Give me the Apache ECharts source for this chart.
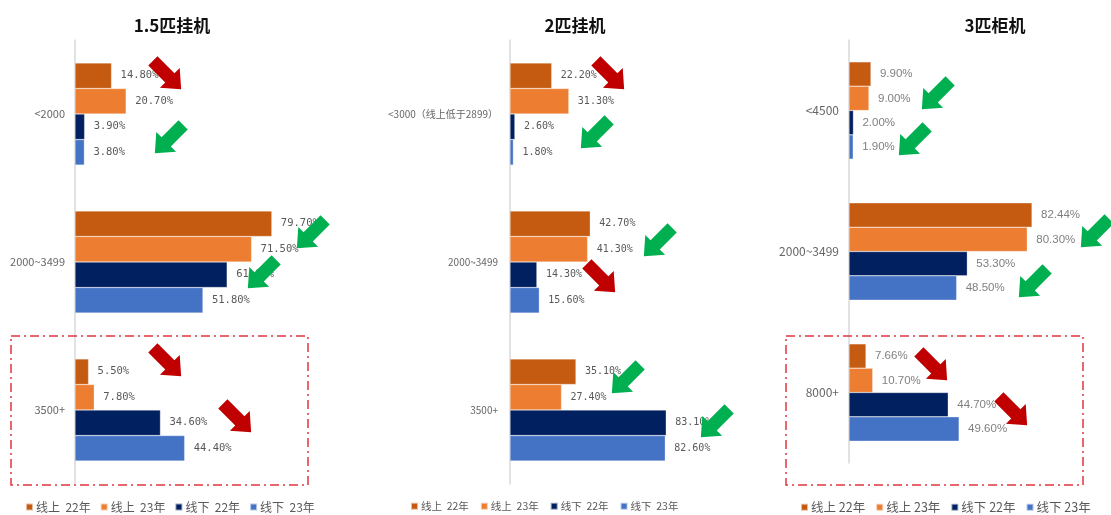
<!DOCTYPE html>
<html>
<head>
<meta charset="utf-8">
<script src="https://cdn.jsdelivr.net/npm/echarts@6/dist/echarts.min.js"></script>
<style>
  html, body { margin: 0; padding: 0; background: #ffffff; }
  #chart { width: 1111px; height: 515px; }
</style>
</head>
<body>
<div id="chart"></div>
<script>
// ---- data ----
const seriesNames = ['线上 22年', '线上 23年', '线下 22年', '线下 23年'];
const seriesColors = ['#C55A11', '#ED7D31', '#002060', '#4472C4'];

const titles = ['1.5匹挂机', '2匹挂机', '3匹柜机'];

const cats15 = ['<2000', '2000~3499', '3500+'];
const online22_15 = [14.8, 79.7, 5.5];
const online23_15 = [20.7, 71.5, 7.8];
const offline22_15 = [3.9, 61.6, 34.6];
const offline23_15 = [3.8, 51.8, 44.4];

const cats2 = ['<3000（线上低于2899）', '2000~3499', '3500+'];
const online22_2 = [22.2, 42.7, 35.1];
const online23_2 = [31.3, 41.3, 27.4];
const offline22_2 = [2.6, 14.3, 83.1];
const offline23_2 = [1.8, 15.6, 82.6];

const cats3 = ['<4500', '2000~3499', '8000+'];
const online22_3 = [9.9, 82.44, 7.66];
const online23_3 = [9.0, 80.3, 10.7];
const offline22_3 = [2.0, 53.3, 44.7];
const offline23_3 = [1.9, 48.5, 49.6];

// trend arrows: [x, y, direction] ; 'dr' = down-right (red), 'dl' = down-left (green)
const trendArrows = [
  [167, 75, 'dr'], [169, 139, 'dl'], [311, 234, 'dl'], [262, 274, 'dl'], [167, 362, 'dr'], [237, 418, 'dr'],
  [610, 75, 'dr'], [595, 134, 'dl'], [658, 242, 'dl'], [601, 278, 'dr'], [626, 379, 'dl'], [715, 423, 'dl'],
  [936, 95, 'dl'], [913, 141, 'dl'], [1095, 233, 'dl'], [1033, 283, 'dl'], [933, 366, 'dr'], [1013, 411, 'dr']
];

// ---- panel layout ----
const panels = [
  { cats: cats15, data: [online22_15, online23_15, offline22_15, offline23_15],
    grid: { left: 75, top: 40, width: 247, height: 444 }, titleX: 167,
    catFont: 11, labelFont: 'DejaVu Sans Mono', labelSize: 10.5, labelColor: '#595959',
    legendLeft: 25, legendGap: 9, legendFont: 12, legendText: true },
  { cats: cats2, data: [online22_2, online23_2, offline22_2, offline23_2],
    grid: { left: 510, top: 40, width: 188, height: 444 }, titleX: 570,
    catFont: 10, labelFont: 'DejaVu Sans Mono', labelSize: 10, labelColor: '#595959',
    legendLeft: 410, legendGap: 11, legendFont: 10.5, legendText: true },
  { cats: cats3, data: [online22_3, online23_3, offline22_3, offline23_3],
    grid: { left: 849, top: 40, width: 222, height: 423 }, titleX: 990,
    catFont: 12, labelFont: 'Liberation Sans', labelSize: 11.5, labelColor: '#808080',
    legendLeft: 800, legendGap: 10, legendFont: 12.5, legendText: false }
];

const cjk = '"Noto Sans CJK SC", "Noto Sans", sans-serif';

const option = {
  animation: false,
  backgroundColor: '#ffffff',
  title: panels.map((p, i) => ({
    text: titles[i],
    left: p.titleX, top: 12, textAlign: 'center',
    textStyle: { fontFamily: cjk, fontSize: 17, fontWeight: 'bold', color: '#111111' }
  })),
  grid: panels.map(p => Object.assign({ containLabel: false }, p.grid)),
  xAxis: panels.map((p, i) => ({
    type: 'value', gridIndex: i, min: 0, max: 100,
    show: false, splitLine: { show: false }
  })),
  yAxis: panels.map((p, i) => ({
    type: 'category', gridIndex: i, data: p.cats, inverse: true,
    axisLine: { show: true, lineStyle: { color: '#D9D9D9', width: 1.5 } },
    axisTick: { show: false },
    axisLabel: { color: '#666666', fontSize: p.catFont, fontFamily: cjk, margin: i === 1 ? 12 : 10 }
  })),
  legend: panels.map((p, i) => ({
    left: p.legendLeft, top: 501, width: 320, padding: 0,
    orient: 'horizontal',
    itemWidth: 7, itemHeight: 7, itemGap: p.legendGap,
    icon: 'rect',
    data: seriesNames.map(n => n + '#' + i),
    formatter: name => {
      const base = name.split('#')[0];
      return p.legendText ? base.replace(' ', '  ') : base;
    },
    textStyle: { color: '#595959', fontSize: p.legendFont, fontFamily: cjk, padding: [0, 0, 0, -2] },
    selectedMode: false
  })),
  series: []
};

panels.forEach((p, i) => {
  p.data.forEach((vals, s) => {
    option.series.push({
      type: 'bar',
      name: seriesNames[s] + '#' + i,
      xAxisIndex: i, yAxisIndex: i,
      data: vals,
      barGap: '0%',
      barCategoryGap: '31%',
      itemStyle: { color: seriesColors[s], borderColor: 'rgba(255,255,255,0.6)', borderWidth: 0.5 },
      label: {
        show: true, position: 'right', distance: 9,
        formatter: d => d.value.toFixed(2) + '%',
        color: p.labelColor, fontSize: p.labelSize, fontFamily: p.labelFont
      }
    });
  });
});

// block arrow polygon
function arrowShape(cx, cy, dir) {
  const L = 40, shaftW = 13, headW = 28, headL = 16;
  const local = [
    [-L / 2, -shaftW / 2], [L / 2 - headL, -shaftW / 2], [L / 2 - headL, -headW / 2],
    [L / 2, 0],
    [L / 2 - headL, headW / 2], [L / 2 - headL, shaftW / 2], [-L / 2, shaftW / 2]
  ];
  const ang = dir === 'dr' ? Math.PI / 4 : 3 * Math.PI / 4;
  const c = Math.cos(ang), s = Math.sin(ang);
  return local.map(([x, y]) => [cx + x * c - y * s, cy + x * s + y * c]);
}

const graphics = [];
// dash-dot highlight frames
[[11, 336, 297, 149], [786, 336, 297, 149]].forEach(r => {
  graphics.push({
    type: 'rect', z: 50,
    shape: { x: r[0], y: r[1], width: r[2], height: r[3] },
    style: { fill: null, stroke: '#E2343C', lineWidth: 1.5, lineDash: [9, 4, 2, 4] }
  });
});
trendArrows.forEach(([x, y, d]) => {
  graphics.push({
    type: 'polygon', z: 100,
    shape: { points: arrowShape(x, y, d) },
    style: { fill: d === 'dr' ? '#C00000' : '#00B050' }
  });
});
option.graphic = graphics;

const chart = echarts.init(document.getElementById('chart'), null, { renderer: 'canvas' });
chart.setOption(option);
</script>
</body>
</html>
